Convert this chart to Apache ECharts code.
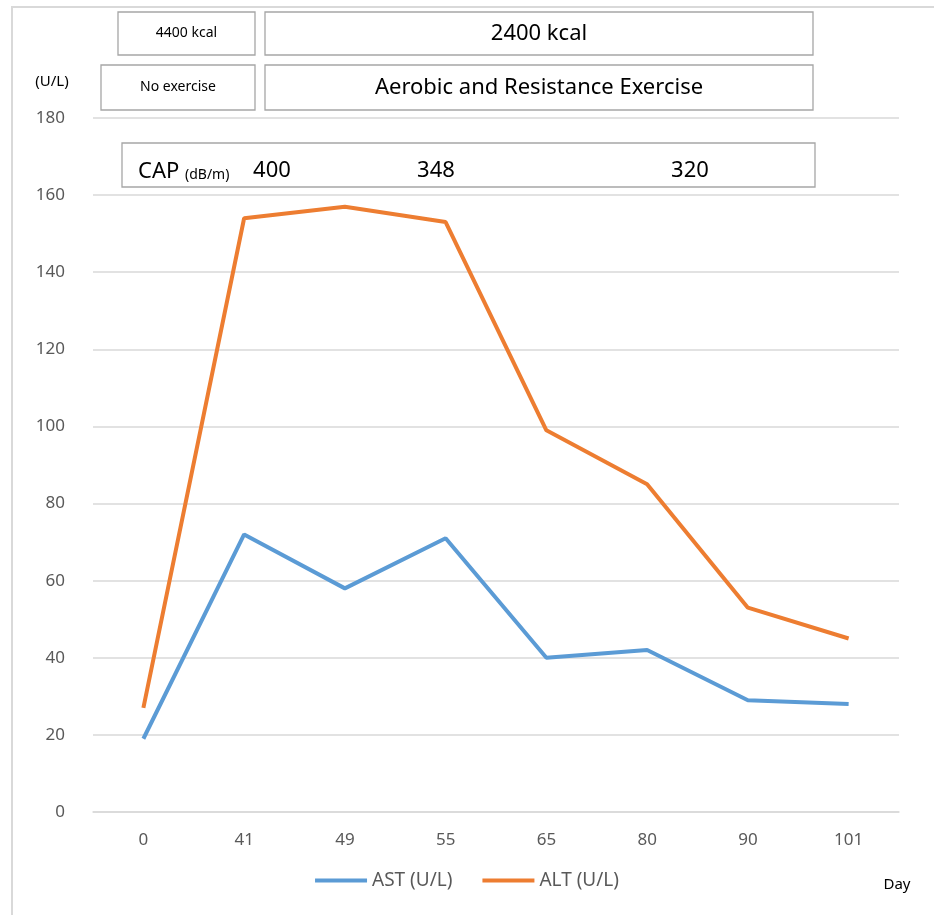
<!DOCTYPE html>
<html>
<head>
<meta charset="utf-8">
<script src="https://cdn.jsdelivr.net/npm/echarts@6/dist/echarts.min.js"></script>
<style>html,body{margin:0;padding:0;background:#fff}#c{width:934px;height:915px}</style>
</head>
<body>
<div id="c"></div>
<script>
var days = ['0','41','49','55','65','80','90','101'];
var astValues = [19, 72, 58, 71, 40, 42, 29, 28];
var altValues = [27, 154, 157, 153, 99, 85, 53, 45];
var seriesNames = ['AST (U/L)', 'ALT (U/L)'];
var yTicks = [0, 20, 40, 60, 80, 100, 120, 140, 160, 180];
var kcalLabels = ['4400 kcal', '2400 kcal'];
var exerciseLabels = ['No exercise', 'Aerobic and Resistance Exercise'];
var capValues = ['400', '348', '320'];

var chart = echarts.init(document.getElementById('c'));
var font = '"Noto Sans", "Open Sans", sans-serif';
var gray = '#595959';
function box(x, y, w, h, txt, size, extra) {
  var el = {
    type: 'rect', shape: {x: x, y: y, width: w, height: h},
    style: {fill: '#fff', stroke: '#a6a6a6', lineWidth: 1.3},
    z: 10
  };
  var t = {
    type: 'text', x: x + w / 2, y: y + h / 2, z: 11,
    style: Object.assign({text: txt, fill: '#000', font: size + 'px ' + font, align: 'center', verticalAlign: 'middle'}, extra || {})
  };
  return [el, t];
}
var graphics = [
  {type: 'rect', shape: {x: 12, y: 7, width: 960, height: 960}, style: {fill: 'none', stroke: '#d9d9d9', lineWidth: 2}, z: 0}
];
graphics = graphics.concat(box(118, 12, 137, 43, kcalLabels[0], 14));
graphics = graphics.concat(box(265, 12, 548, 43, kcalLabels[1], 22));
graphics = graphics.concat(box(101, 65, 154, 45, exerciseLabels[0], 14));
graphics = graphics.concat(box(265, 65, 548, 45, exerciseLabels[1], 22));
graphics.push({type: 'rect', shape: {x: 122, y: 143, width: 693, height: 44}, style: {fill: '#fff', stroke: '#a6a6a6', lineWidth: 1.3}, z: 10});
graphics.push({type: 'text', x: 138, y: 172, z: 11, style: {text: 'CAP', fill: '#000', font: '22px ' + font, verticalAlign: 'middle'}});
graphics.push({type: 'text', x: 185, y: 175, z: 11, style: {text: '(dB/m)', fill: '#000', font: '14px ' + font, verticalAlign: 'middle'}});
graphics.push({type: 'text', x: 272, y: 171, z: 11, style: {text: capValues[0], fill: '#000', font: '22px ' + font, align: 'center', verticalAlign: 'middle'}});
graphics.push({type: 'text', x: 436, y: 171, z: 11, style: {text: capValues[1], fill: '#000', font: '22px ' + font, align: 'center', verticalAlign: 'middle'}});
graphics.push({type: 'text', x: 690, y: 171, z: 11, style: {text: capValues[2], fill: '#000', font: '22px ' + font, align: 'center', verticalAlign: 'middle'}});
graphics.push({type: 'text', x: 52, y: 82, z: 11, style: {text: '(U/L)', fill: '#000', font: '15px ' + font, align: 'center', verticalAlign: 'middle'}});
graphics.push({type: 'text', x: 897, y: 885, z: 11, style: {text: 'Day', fill: '#000', font: '15px ' + font, align: 'center', verticalAlign: 'middle'}});

chart.setOption({
  animation: false,
  backgroundColor: '#fff',
  grid: {left: 93, right: 35, top: 118, bottom: 103},
  legend: {
    data: seriesNames, bottom: 20, left: 'center',
    icon: 'rect', itemWidth: 52, itemHeight: 4, itemGap: 30,
    textStyle: {color: gray, fontSize: 19, fontFamily: font}
  },
  xAxis: {
    type: 'category', data: days, boundaryGap: true,
    axisLine: {show: true, lineStyle: {color: '#d9d9d9', width: 1.5}},
    axisTick: {show: false},
    axisLabel: {color: gray, fontSize: 17, fontFamily: font, margin: 20}
  },
  yAxis: {
    type: 'value', min: yTicks[0], max: yTicks[yTicks.length - 1], interval: 20,
    axisLine: {show: false}, axisTick: {show: false},
    axisLabel: {color: gray, fontSize: 17, fontFamily: font, margin: 28},
    splitLine: {lineStyle: {color: '#d9d9d9', width: 1.5}}
  },
  series: [
    {name: seriesNames[0], type: 'line', data: astValues, symbol: 'none', lineStyle: {color: '#5b9bd5', width: 4}, itemStyle: {color: '#5b9bd5'}},
    {name: seriesNames[1], type: 'line', data: altValues, symbol: 'none', lineStyle: {color: '#ed7d31', width: 4}, itemStyle: {color: '#ed7d31'}}
  ],
  graphic: graphics
});
</script>
</body>
</html>
